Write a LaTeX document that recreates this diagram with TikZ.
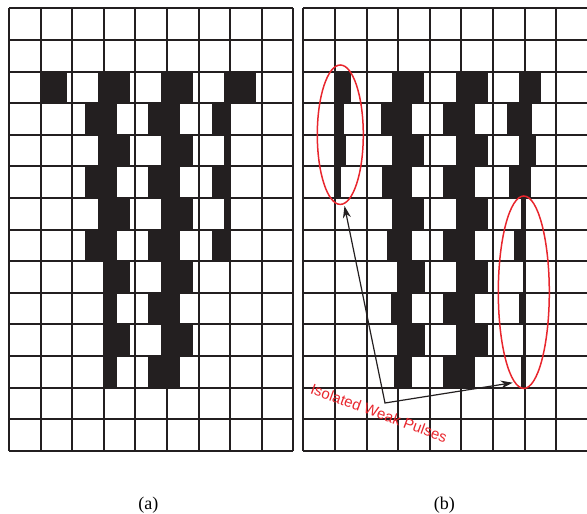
\documentclass[tikz,border=0pt]{standalone}
\usepackage{fontspec}
\setmainfont{Liberation Serif}
\newfontfamily\labelfont{Liberation Sans}
\usetikzlibrary{arrows.meta,shapes.geometric}
\definecolor{ink}{HTML}{231F20}
\definecolor{mark}{HTML}{E8262D}
\tikzset{
  gridline/.style={draw=ink, line width=2pt},
  blk/.style={fill=ink},
  ring/.style={draw=mark, line width=1.5pt, ellipse, inner sep=0pt, outer sep=0pt},
  pointer/.style={draw=ink, line width=1.2pt, {Stealth[length=12pt,width=8pt]}-{Stealth[length=12pt,width=8pt]}},
  lbl/.style={text=mark, font=\labelfont\fontsize{15}{17}\selectfont, inner sep=0pt},
  caption/.style={font=\fontsize{18}{20}\selectfont, inner sep=0pt},
}
\begin{document}
\begin{tikzpicture}[x=1pt,y=-1pt]
\useasboundingbox (0,0) rectangle (587,514);
\clip (0,0) rectangle (587,514);
% panel (a)
\begin{scope}[shift={(9,8.3)}]
  \foreach \r/\a/\b in {2/31.6/57.7, 2/89.3/121, 2/152.3/183.7, 2/215.3/247,
    3/76.3/107.7, 3/139/171, 3/203/221.2,
    5/76.3/107.7, 5/139/171, 5/203/221.2,
    7/76.3/107.7, 7/139/171, 7/203/221.2,
    4/89.3/121, 4/152.3/183.7, 4/215.3/221.2,
    6/89.3/121, 6/152.3/183.7, 6/215.3/221.2,
    8/94.8/121, 8/152.3/183.7, 10/94.8/121, 10/152.3/183.7,
    9/94.8/107.7, 9/139/171, 11/94.8/107.7, 11/139/171}
    \fill[blk] (\a,\r*31.6) rectangle (\b,\r*31.6+31.6);
  \foreach \i in {0,...,9} \draw[gridline] (\i*31.6,0) -- (\i*31.6,442.4);
  \foreach \j in {0,...,14} \draw[gridline] (0,\j*31.6) -- (284.4,\j*31.6);
\end{scope}
% panel (b)
\begin{scope}[shift={(303.3,8.3)}]
  \foreach \r/\a/\b in {2/31.6/47.7, 2/89/120.7, 2/153/184.4, 2/216/237.7,
    3/31.6/40.7, 3/77.7/108.4, 3/139.7/171.7, 3/203.7/228.4,
    4/31.6/42.4, 4/89/120.7, 4/153/184.4, 4/216/232.4,
    5/31.6/37.4, 5/79/108.4, 5/139.7/171.7, 5/205.7/227.7,
    6/89/120.7, 6/153/184.4, 6/217.7/222.2,
    7/84/108.4, 7/139.7/171.7, 7/211/222.2,
    8/93.4/121.7, 8/153/184.4, 8/219.2/222.2,
    9/87.4/108.4, 9/139.7/171.7, 9/216/222.2,
    10/93.4/121.7, 10/153/184.4, 10/219.2/222.2,
    11/90.7/108.4, 11/139.7/171.7, 11/217.7/222.2}
    \fill[blk] (\a,\r*31.6) rectangle (\b,\r*31.6+31.6);
  \foreach \i in {0,...,9} \draw[gridline] (\i*31.6,0) -- (\i*31.6,442.4);
  \foreach \j in {0,...,14} \draw[gridline] (0,\j*31.6) -- (284.4,\j*31.6);
\end{scope}
% highlights
\node[ring, minimum width=46pt, minimum height=139.4pt] (ellL) at (340.3,134.7) {};
\node[ring, minimum width=51pt, minimum height=192.4pt] (ellR) at (523.8,292.2) {};
\coordinate (vtx) at (385,403);
\coordinate (tipL) at (344.5,206);
\coordinate (tipR) at (512.7,382.7);
\draw[pointer] (tipL) -- (vtx) -- (tipR);
\node[lbl, rotate=-20] (label) at (379,413) {Isolated Weak Pulses};
% captions
\node[caption] (capa) at (148.3,505.5) {(a)};
\node[caption] (capb) at (444.3,505.5) {(b)};
\end{tikzpicture}
\end{document}
